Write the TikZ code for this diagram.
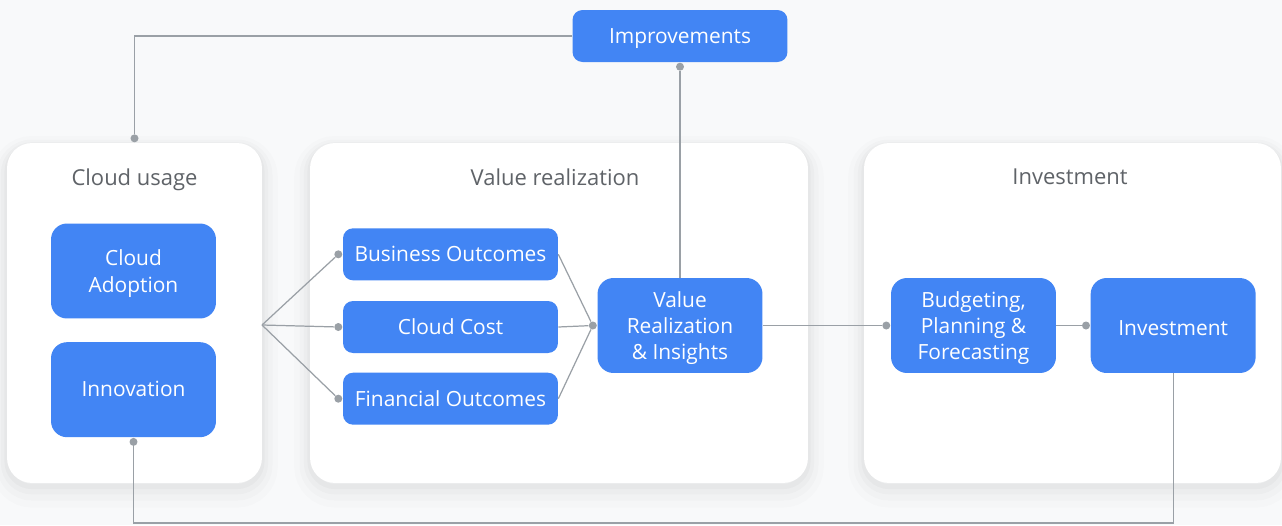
\documentclass[tikz,border=0pt]{standalone}
\usepackage{fontspec}
\setmainfont{Open Sans}
\usetikzlibrary{positioning}
\definecolor{gblue}{HTML}{4285F4}
\definecolor{gline}{HTML}{9AA0A6}
\definecolor{gtext}{HTML}{5F6368}
\definecolor{gback}{HTML}{F8F9FA}

\begin{document}
\begin{tikzpicture}[
      x=0.02cm, y=-0.02cm,
      panel/.style={
         fill=white,
         rounded corners=0.5cm,
         minimum height=6.8cm,
         inner sep=0pt,
         % soft halo built from wide faint strokes
         preaction={draw=black, draw opacity=0.012, line width=18pt,
                    transform canvas={yshift=-5pt}},
         preaction={draw=black, draw opacity=0.015, line width=12pt,
                    transform canvas={yshift=-4pt}},
         preaction={draw=black, draw opacity=0.02, line width=7pt,
                    transform canvas={yshift=-3pt}},
         preaction={draw=black, draw opacity=0.025, line width=3pt,
                    transform canvas={yshift=-2pt}}},
      paneltitle/.style={text=gtext, text depth=0pt,
         font=\fontsize{12.5}{15}\selectfont},
      bigbox/.style={
         fill=gblue,
         text=white,
         rounded corners=0.32cm,
         minimum width=3.3cm,
         minimum height=1.9cm,
         inner sep=2pt,
         align=center,
         text depth=0pt,
         execute at begin node={\rule{0pt}{1em}},
         font=\fontsize{11.9}{14.6}\selectfont},
      smallbox/.style={
         fill=gblue,
         text=white,
         rounded corners=0.2cm,
         minimum width=4.3cm,
         minimum height=1.04cm,
         inner sep=2pt,
         text depth=0pt,
         font=\fontsize{11.9}{14.6}\selectfont},
      link/.style={draw=gline, line width=0.7pt},
      pin/.style={circle, fill=gline, inner sep=0pt, minimum size=0.16cm},
      node distance=0.4cm and 0.68cm
      ]
\fill[gback] (0,0) rectangle (1282,525);
\useasboundingbox (0,0) rectangle (1282,525);

% panels
\node[panel,minimum width=5.1cm ] (usage)  at (134.5,313) {};
\node[panel,minimum width=9.96cm] (valreal) at (559,313) {};
\node[panel,minimum width=8.34cm] (invpanel) at (1072.5,313) {};

\node[paneltitle] (usagetitle) at (134.5,177) {Cloud usage};
\node[paneltitle] (valtitle)   at (555,177)   {Value realization};
\node[paneltitle] (invtitle)   at (1070,177)  {Investment};

% boxes
\node[bigbox] (adopt) at (133.5,271) {Cloud\\[1pt]Adoption};
\node[bigbox,below=0.46cm of adopt,execute at begin node={},text depth=4pt] (innov) {Innovation};

\node[smallbox] (cost) at (450.5,327) {Cloud Cost};
\node[smallbox,above=of cost] (business) {Business Outcomes};
\node[smallbox,below=0.38cm of cost] (financial) {Financial Outcomes};

\node[bigbox] (value) at (680,325.5) {Value\\Realization\\\&~Insights};
\node[bigbox] (budget) at (973.5,325.5) {Budgeting,\\Planning \&\\Forecasting};
\node[bigbox,right=of budget] (invest) {Investment};

\node[smallbox] (improve) at (680,36) {Improvements};

% end dots
\node[pin,left=0pt of business ] (businesspin) {};
\node[pin,left=0pt of cost     ] (costpin) {};
\node[pin,left=0pt of financial] (financialpin) {};
\node[pin,left=0pt of value    ] (valuepin) {};
\node[pin,left=0pt of budget   ] (budgetpin) {};
\node[pin,left=0pt of invest   ] (investpin) {};
\node[pin,below=0pt of improve ] (improvepin) {};
\node[pin,above=0pt of usage   ] (usagepin) {};
\node[pin,below=0pt of innov   ] (innovpin) {};

\coordinate (fan) at (262,325);
\coordinate (floor) at (0,523);

\foreach \i/\j in {% start/end
      fan/businesspin, fan/costpin, fan/financialpin,
      business.east/valuepin, cost.east/valuepin, financial.east/valuepin,
      value.north/improvepin,
      value.east/budgetpin, budget.east/investpin}
   \draw[link] (\i) -- (\j);

\draw[link] (improve.west) -| (usagepin);
\draw[link] (invest.south) -- (invest.south |- floor) -| (innovpin);

\end{tikzpicture}
\end{document}
